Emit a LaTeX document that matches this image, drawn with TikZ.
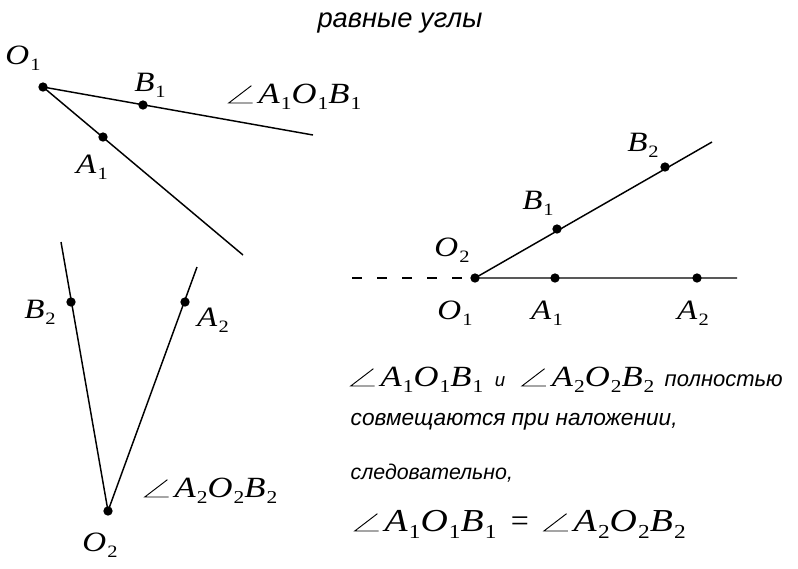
\documentclass[tikz,border=0pt]{standalone}
\usepackage{fontspec}
\setmainfont{Liberation Serif}
\newfontfamily\rusfont{Liberation Sans}
\usetikzlibrary{positioning}
% point name with index, letters a bit wider as in the book
\newcommand\pnt[2]{\scalebox{1.18}[1]{\textit{#1}\kern0.03em\raisebox{-0.22em}{\scalebox{0.62}{#2}}}}
\newcommand\angsym{\tikz[baseline=0pt]\draw[line width=0.7pt,solid] (17pt,13pt) -- (0pt,0pt) -- (18pt,0pt);\kern4pt}
\newcommand\angl[1]{\angsym\pnt{A}{#1}\pnt{O}{#1}\pnt{B}{#1}}
\begin{document}
\begin{tikzpicture}[x=0.75pt,y=-0.75pt,line width=1.1pt,
    dot/.style={circle,fill,inner sep=0pt,minimum size=7pt},
    lbl/.style={inner sep=0pt,font=\fontsize{21}{24}\selectfont},
    rus/.style={inner sep=0pt,anchor=base west,font=\rusfont\itshape\fontsize{16.5}{20}\selectfont},
    frm/.style={inner sep=0pt,anchor=base west,font=\fontsize{22}{24}\selectfont}]
    \useasboundingbox (0,0) rectangle (798,568);

    \node [rus,anchor=base,font=\rusfont\itshape\fontsize{20.5}{24}\selectfont] (title) at (400,27) {равные углы};

    % angle A1 O1 B1
    \node [dot] (O1) at (43,87) {};
    \node [dot] (B1) at (143,105) {};
    \node [dot] (A1) at (103,137) {};
    \coordinate (b1) at (313,135);
    \coordinate (a1) at (243,255);
    \draw (O1.center) -- (b1) (O1.center) -- (a1);
    \node [lbl] (lO1) at (23,58) {\pnt{O}{1}};
    \node [lbl] (lB1) at (150,85) {\pnt{B}{1}};
    \node [lbl] (lA1) at (92,167) {\pnt{A}{1}};
    \node [frm] (ang1) at (228,103) {\angl{1}};

    % angle A2 O2 B2
    \node [dot] (O2) at (108,511) {};
    \node [dot] (B2) at (71,302) {};
    \node [dot] (A2) at (185,302) {};
    \coordinate (b2) at (61,242);
    \coordinate (a2) at (197,267);
    \draw (O2.center) -- (b2) (O2.center) -- (a2);
    \node [lbl] (lO2) at (100,545) {\pnt{O}{2}};
    \node [lbl] (lB2) at (40,312) {\pnt{B}{2}};
    \node [lbl] (lA2) at (213,320) {\pnt{A}{2}};
    \node [frm] (ang2) at (144,497) {\angl{2}};

    % superposition
    \node [dot] (O) at (475,278) {};
    \node [dot] (P1) at (555,278) {};
    \node [dot] (P2) at (697,278) {};
    \node [dot] (Q1) at (557,229) {};
    \node [dot] (Q2) at (665,167) {};
    \coordinate (p) at (737,278);
    \coordinate (q) at (712,142);
    \coordinate (d) at (352,278);
    \draw [dash pattern=on 7.5pt off 11.25pt] (d) -- (O.center);
    \draw (O.center) -- (p) (O.center) -- (q);
    \node [lbl] (lQ2) at (643,145) {\pnt{B}{2}};
    \node [lbl] (lQ1) at (538,203) {\pnt{B}{1}};
    \node [lbl] (lO2b) at (452,250) {\pnt{O}{2}};
    \node [lbl] (lO1b) at (455,313) {\pnt{O}{1}};
    \node [lbl] (lP1) at (547,313) {\pnt{A}{1}};
    \node [lbl] (lP2) at (693,313) {\pnt{A}{2}};

    % conclusion
    \node [frm] (t1) at (350,386) {\angl{1}\hspace{0.4em}{\rusfont\itshape\fontsize{14}{18}\selectfont и}\hspace{0.55em}\angl{2}\hspace{0.35em}{\rusfont\itshape\fontsize{16.5}{20}\selectfont полностью}};
    \node [rus,font=\rusfont\itshape\fontsize{17}{20}\selectfont] (t2) at (350,425) {совмещаются при наложении,};
    \node [rus,font=\rusfont\itshape\fontsize{16}{20}\selectfont] (t3) at (350,479) {следовательно,};
    \node [frm,font=\fontsize{24}{26}\selectfont] (t4) at (354,531) {\angl{1}\hspace{0.45em}=\hspace{0.45em}\angl{2}};
\end{tikzpicture}
\end{document}
